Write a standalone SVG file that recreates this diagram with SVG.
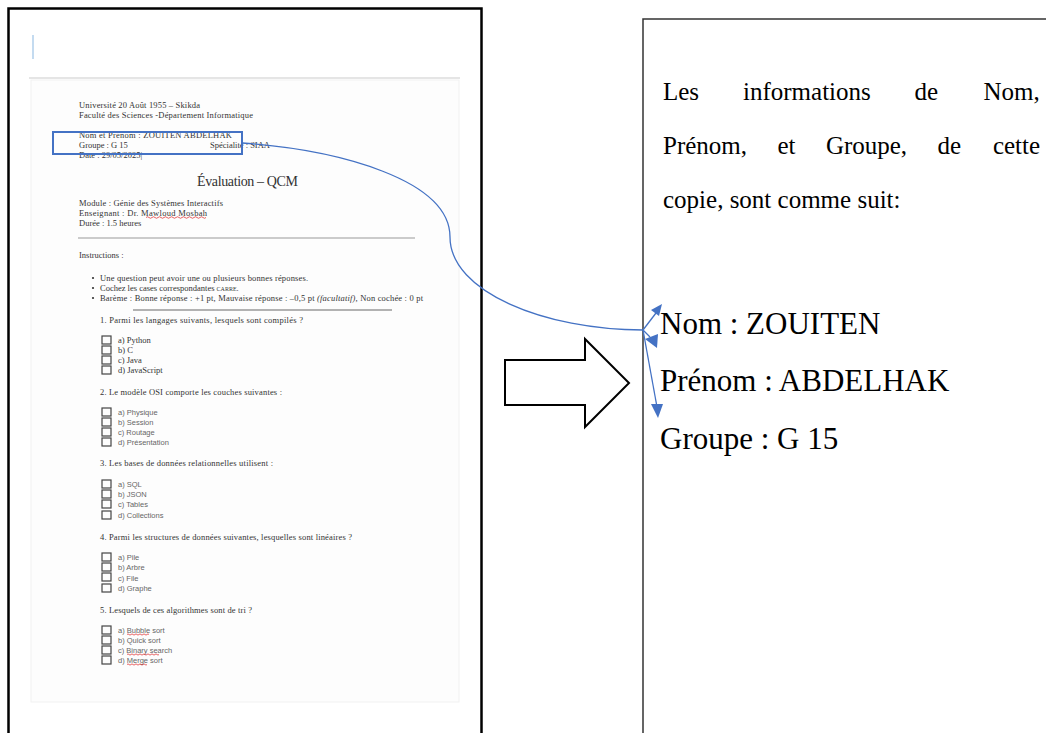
<svg xmlns="http://www.w3.org/2000/svg" width="1046" height="733" viewBox="0 0 1046 733">
<style>
.doc{font-family:"Liberation Serif","Times New Roman",serif;font-size:8.5px;fill:#333}
.opt{font-family:"Liberation Sans",Arial,sans-serif;font-size:7.5px;fill:#666}
.opts{font-family:"Liberation Serif",serif;font-size:8.5px;fill:#333}
.cb{fill:none;stroke:#444;stroke-width:1.2}
.big{font-family:"Liberation Serif","Times New Roman",serif;font-size:25px;fill:#000}
.big2{font-family:"Liberation Serif","Times New Roman",serif;font-size:31px;fill:#000}
.blue{stroke:#4472C4;fill:none;stroke-width:1.3}
.head{fill:#4472C4}
.sq{fill:none;stroke:#d22;stroke-width:0.7}
</style>
<rect width="1046" height="733" fill="#fff"/>

<g id="left-panel">
<rect x="8.5" y="8.5" width="473" height="740" fill="#fff" stroke="#000" stroke-width="2.5"/>
<line x1="33" y1="35" x2="33" y2="59" stroke="#9dc3e6" stroke-width="1.2"/>
<line x1="29" y1="78" x2="460" y2="78" stroke="#ccc" stroke-width="1.2"/>
<rect x="31" y="80" width="428" height="622" fill="#fdfdfd" stroke="#f1f1f1" stroke-width="1"/>
</g>

<g id="document">
<text class="doc" x="79" y="108" textLength="121">Université 20 Août 1955 – Skikda</text>
<text class="doc" x="79" y="118" textLength="174">Faculté des Sciences -Département Informatique</text>
<text class="doc" x="79" y="138" textLength="153">Nom et Prénom : ZOUITEN ABDELHAK</text>
<text class="doc" x="79" y="148">Groupe : G 15</text>
<text class="doc" x="210" y="148">Spécialité : SIAA</text>
<text class="doc" x="79" y="158">Date : 29/05/2025|</text>
<text x="197" y="186" font-family="Liberation Serif,serif" font-size="14" fill="#333" textLength="101">Évaluation – QCM</text>
<text class="doc" x="79" y="206" textLength="144">Module : Génie des Systèmes Interactifs</text>
<text class="doc" x="79" y="216" textLength="128">Enseignant : Dr. Mawloud Mosbah</text>
<path class="sq" d="M146,217.5 q1.5,-1.5 3,0 t3,0 t3,0 t3,0 t3,0 t3,0 t3,0 t3,0 t3,0 t3,0 t3,0 t3,0 t3,0 t3,0 t3,0 t3,0 t3,0 t3,0 t3,0 t3,0"/>
<text class="doc" x="79" y="226">Durée : 1.5 heures</text>
<line x1="78" y1="238" x2="415" y2="238" stroke="#999" stroke-width="1.2"/>
<text class="doc" x="79" y="258">Instructions :</text>
<circle cx="93" cy="278" r="1.1" fill="#333"/>
<circle cx="93" cy="288" r="1.1" fill="#333"/>
<circle cx="93" cy="298" r="1.1" fill="#333"/>
<text class="doc" x="100" y="281" textLength="208">Une question peut avoir une ou plusieurs bonnes réponses.</text>
<text class="doc" x="100" y="291">Cochez les cases correspondantes <tspan font-size="6">CARRE</tspan>.</text>
<text class="doc" x="100" y="301" textLength="323">Barème : Bonne réponse : +1 pt, Mauvaise réponse : –0,5 pt <tspan font-style="italic">(facultatif)</tspan>, Non cochée : 0 pt</text>
<line x1="133" y1="310" x2="392" y2="310" stroke="#999" stroke-width="1.6"/>

<text class="doc" x="100" y="323" textLength="203">1. Parmi les langages suivants, lesquels sont compilés ?</text>
<rect class="cb" x="102" y="336" width="9" height="8"/>
<rect class="cb" x="102" y="346" width="9" height="8"/>
<rect class="cb" x="102" y="356" width="9" height="8"/>
<rect class="cb" x="102" y="366" width="9" height="8"/>
<text class="opts" x="118" y="343">a) Python</text>
<text class="opts" x="118" y="353">b) C</text>
<text class="opts" x="118" y="363">c) Java</text>
<text class="opts" x="118" y="373">d) JavaScript</text>

<text class="doc" x="100" y="395" textLength="182">2. Le modèle OSI comporte les couches suivantes :</text>
<rect class="cb" x="102" y="408" width="9" height="8"/>
<rect class="cb" x="102" y="418" width="9" height="8"/>
<rect class="cb" x="102" y="428" width="9" height="8"/>
<rect class="cb" x="102" y="438" width="9" height="8"/>
<text class="opt" x="118" y="415">a) Physique</text>
<text class="opt" x="118" y="425">b) Session</text>
<text class="opt" x="118" y="435">c) Routage</text>
<text class="opt" x="118" y="445">d) Présentation</text>

<text class="doc" x="100" y="466" textLength="173">3. Les bases de données relationnelles utilisent :</text>
<rect class="cb" x="102" y="480" width="9" height="8"/>
<rect class="cb" x="102" y="490" width="9" height="8"/>
<rect class="cb" x="102" y="500" width="9" height="8"/>
<rect class="cb" x="102" y="511" width="9" height="8"/>
<text class="opt" x="118" y="487">a) SQL</text>
<text class="opt" x="118" y="497">b) JSON</text>
<text class="opt" x="118" y="507">c) Tables</text>
<text class="opt" x="118" y="518">d) Collections</text>

<text class="doc" x="100" y="540" textLength="252">4. Parmi les structures de données suivantes, lesquelles sont linéaires ?</text>
<rect class="cb" x="102" y="553" width="9" height="8"/>
<rect class="cb" x="102" y="563" width="9" height="8"/>
<rect class="cb" x="102" y="573" width="9" height="8"/>
<rect class="cb" x="102" y="584" width="9" height="8"/>
<text class="opt" x="118" y="560">a) Pile</text>
<text class="opt" x="118" y="570">b) Arbre</text>
<text class="opt" x="118" y="581">c) File</text>
<text class="opt" x="118" y="591">d) Graphe</text>

<text class="doc" x="100" y="613" textLength="152">5. Lesquels de ces algorithmes sont de tri ?</text>
<rect class="cb" x="102" y="626" width="9" height="8"/>
<rect class="cb" x="102" y="636" width="9" height="8"/>
<rect class="cb" x="102" y="646" width="9" height="8"/>
<rect class="cb" x="102" y="656" width="9" height="8"/>
<text class="opt" x="118" y="633">a) Bubble sort</text>
<text class="opt" x="118" y="643">b) Quick sort</text>
<text class="opt" x="118" y="653">c) Binary search</text>
<text class="opt" x="118" y="663">d) Merge sort</text>
<path class="sq" d="M127,634.5 q1,-1.2 2,0 t2,0 t2,0 t2,0 t2,0 t2,0 t2,0 t2,0 t2,0 t2,0 t2,0"/>
<path class="sq" d="M127,654.5 q1,-1.2 2,0 t2,0 t2,0 t2,0 t2,0 t2,0 t2,0 t2,0 t2,0 t2,0 t2,0 t2,0 t2,0 t2,0 t2,0 t2,0"/>
<path class="sq" d="M127,664.5 q1,-1.2 2,0 t2,0 t2,0 t2,0 t2,0 t2,0 t2,0 t2,0 t2,0 t2,0"/>

<rect x="53" y="132" width="189" height="22" fill="none" stroke="#4472C4" stroke-width="2"/>
</g>

<g id="big-arrow">
<polygon points="505,360 585,360 585,339 629,383 585,427 585,405 505,405" fill="#fff" stroke="#000" stroke-width="2"/>
</g>

<g id="right-panel">
<rect x="643" y="19" width="420" height="740" fill="#fff" stroke="#333" stroke-width="1.5"/>
<text class="big" x="663" y="100">Les</text>
<text class="big" x="743" y="100">informations</text>
<text class="big" x="914.5" y="100">de</text>
<text class="big" x="983.5" y="100">Nom,</text>
<text class="big" x="663" y="154">Prénom,</text>
<text class="big" x="777.4" y="154">et</text>
<text class="big" x="825.9" y="154">Groupe,</text>
<text class="big" x="937.5" y="154">de</text>
<text class="big" x="992.9" y="154">cette</text>
<text class="big" x="663" y="208">copie, sont comme suit:</text>
<text class="big2" x="660" y="334">Nom : ZOUITEN</text>
<text class="big2" x="660" y="391">Prénom : ABDELHAK</text>
<text class="big2" x="660" y="449">Groupe : G 15</text>
</g>

<g id="connectors">
<path class="blue" d="M242,143 C340,150 450,180 450,237 C450,292 545,330 643,330"/>
<line class="blue" x1="643" y1="330" x2="656" y2="313"/>
<polygon class="head" points="662,304 651,310 659,316"/>
<line class="blue" x1="643" y1="330" x2="650" y2="337"/>
<polygon class="head" points="645,339 658,334 657,348"/>
<line class="blue" x1="643" y1="330" x2="657" y2="407"/>
<polygon class="head" points="658,418 651,404 663,404"/>
</g>
</svg>
